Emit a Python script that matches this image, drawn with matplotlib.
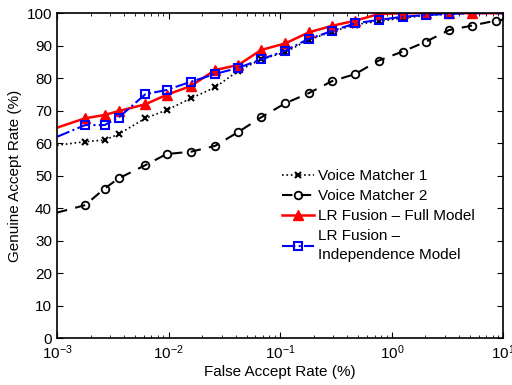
import numpy as np
import matplotlib
matplotlib.use('Agg')
import matplotlib.pyplot as plt

plt.rcParams['font.family'] = ['Liberation Sans', 'DejaVu Sans']

# false accept rate (%) at the marker positions, plus the axis ends
far = [0.001, 0.00179, 0.00267, 0.00356, 0.0062, 0.0096, 0.0158, 0.0261, 0.0422,
       0.0676, 0.111, 0.180, 0.291, 0.471, 0.760, 1.25, 2.01, 3.26, 5.26, 8.49, 10]

vm1 = [59.4, 60.5, 61.0, 62.8, 67.7, 70.2, 73.8, 77.2, 82.3, 85.8, 88.0, 91.8,
       94.3, 96.5, 97.5, 98.5, 99.3, 99.7, 100, 100, 100]
vm2 = [38.7, 41.0, 46.1, 49.2, 53.3, 56.7, 57.4, 59.2, 63.5, 68.0, 72.3, 75.4,
       79.1, 81.3, 85.4, 88.2, 91.2, 94.8, 96.2, 97.7, 98.0]
lr_full = [64.8, 67.7, 68.7, 69.9, 72.0, 74.9, 77.6, 82.5, 84.1, 88.7, 90.7, 94.1,
           96.1, 97.7, 99.7, 100, 100, 100, 100, 100, 100]
lr_indep = [62.0, 65.6, 65.6, 67.9, 75.1, 76.4, 78.9, 81.3, 83.2, 85.8, 88.5, 92.1,
            94.5, 96.9, 97.9, 98.9, 99.4, 99.8, 100, 100, 100]

fig = plt.figure(figsize=(5.12, 3.85), dpi=100)
ax = fig.add_axes([0.1113, 0.1208, 0.872, 0.845])

ax.plot(far, vm1, color='black', linestyle=':', linewidth=1.2, marker='x',
        markersize=4, markeredgewidth=1.5, markevery=list(range(1, 19)),
        label='Voice Matcher 1')
ax.plot(far, vm2, color='black', linestyle=(0, (5, 4)), linewidth=1.5, marker='o',
        markersize=5.5, markerfacecolor='none', markeredgewidth=1.3,
        markevery=list(range(1, 20)), label='Voice Matcher 2')
ax.plot(far, lr_full, color='red', linestyle='-', linewidth=1.8, marker='^',
        markersize=6.5, markerfacecolor='red', markevery=list(range(1, 19)),
        label='LR Fusion – Full Model')
ax.plot(far, lr_indep, color='blue', linestyle='-.', linewidth=1.5, marker='s',
        markersize=5.5, markerfacecolor='none', markeredgewidth=1.5,
        markevery=list(range(1, 18)), label='LR Fusion –\nIndependence Model')

ax.set_xscale('log')
ax.set_xlim(0.001, 10)
ax.set_ylim(0, 100)
ax.set_yticks(np.arange(0, 101, 10))
ax.tick_params(which='both', direction='in', top=True, right=True, labelsize=11)
ax.tick_params(which='major', length=4)
ax.tick_params(which='minor', length=2)
for s in ax.spines.values():
    s.set_linewidth(1.2)

ax.set_xlabel('False Accept Rate (%)', fontsize=11, labelpad=2)
ax.set_ylabel('Genuine Accept Rate (%)', fontsize=11, labelpad=3)

leg = ax.legend(loc='upper left', bbox_to_anchor=(0.503, 0.52), frameon=False,
                borderpad=0, borderaxespad=0, fontsize=11, handlelength=2.1,
                handletextpad=0.3, labelspacing=0.38)
leg.get_texts()[3].set_linespacing(1.5)

plt.savefig('out.png', dpi=100)
